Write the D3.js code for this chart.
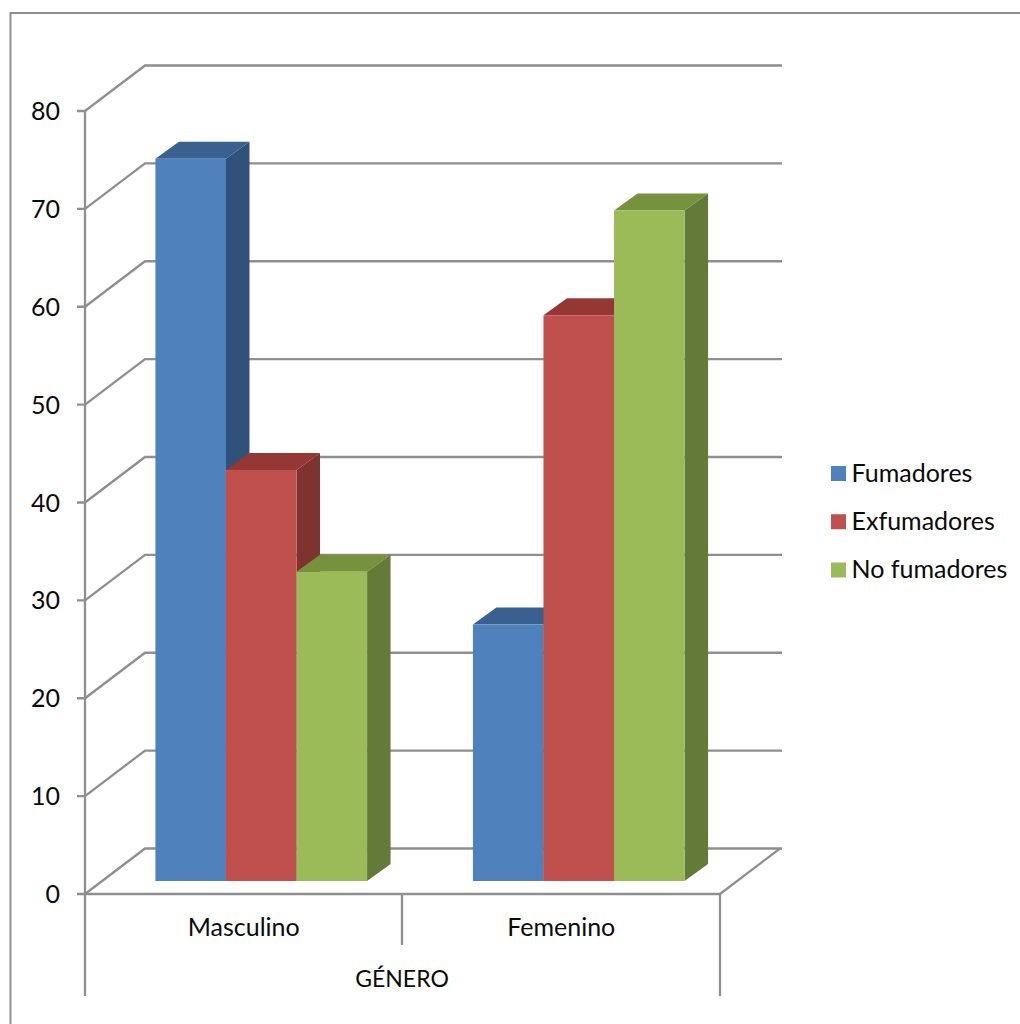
<!DOCTYPE html>
<html>
<head>
<meta charset="utf-8">
<title>Género</title>
<script src="https://d3js.org/d3.v7.min.js"></script>
<style>
    html, body { margin: 0; padding: 0; background: #fff; }
    svg { display: block; }
    text { font-family: Lato, "Open Sans", sans-serif; font-size: 25px; fill: #0a0a0a; }
</style>
</head>
<body>
<div id="chart"></div>
<script>
var categories = ["Masculino", "Femenino"];
var seriesNames = ["Fumadores", "Exfumadores", "No fumadores"];
var fumadores = [73.8, 26.2];
var exfumadores = [42, 57.8];
var noFumadores = [31.6, 68.5];
var yTicks = [0, 10, 20, 30, 40, 50, 60, 70, 80];
var axisTitle = "GÉNERO";

var seriesValues = [fumadores, exfumadores, noFumadores];
var faceColors = ["#4f81bd", "#c0504d", "#9bbb59"];
var topColors = ["#3a6090", "#953735", "#76923c"];
var sideColors = ["#30527a", "#7f3331", "#647a38"];
var gridColor = "#8f8f8f";

var w = 1020, h = 1024;

var svg = d3.select("#chart").append("svg")
    .attr("width", w)
    .attr("height", h);

// outer frame of the chart area, runs off the bottom and right of the picture
svg.append("path")
    .attr("d", "M10.5,1030V13H1030")
    .attr("fill", "none")
    .attr("stroke", gridColor)
    .attr("stroke-width", 2);

var y = d3.scaleLinear().domain([0, 80]).range([894, 111]);
var x0 = d3.scaleBand().domain(categories).range([85, 720]).paddingInner(0).paddingOuter(0);
var x1 = d3.scaleBand().domain(seriesNames).range([0, x0.bandwidth()]).paddingOuter(0.75).paddingInner(0);

// fake 3d: how far back the wall and the bars sit
var wallDx = 60, wallDy = -45.5;
var barDx = 17.5, barDy = -13;
var sideDx = 23.5, sideDy = -17;

var grid = svg.append("g").attr("fill", "none").attr("stroke", gridColor).attr("stroke-width", 2.3);

yTicks.forEach(function(t) {
    var p = d3.path();
    p.moveTo(77, y(t));
    p.lineTo(85, y(t));
    p.lineTo(85 + wallDx, y(t) + wallDy);
    p.lineTo(782, y(t) + wallDy);
    grid.append("path").attr("d", p.toString());
});

// floor right edge
grid.append("path").attr("d", "M720," + y(0) + "L" + (720 + wallDx) + "," + (y(0) + wallDy));
// front edge, value axis
grid.append("path").attr("d", "M85," + y(0) + "H720");
grid.append("path").attr("d", "M85," + y(80) + "V" + y(0));

// category axis separators
grid.append("path").attr("d", "M85," + y(0) + "V996");
grid.append("path").attr("d", "M402," + y(0) + "V945");
grid.append("path").attr("d", "M720," + y(0) + "V996");

categories.forEach(function(cat, c) {
    seriesNames.forEach(function(name, s) {
        var v = seriesValues[s][c];
        var g = svg.append("g");
        var left = x0(cat) + x1(name) + barDx;
        var right = left + x1.bandwidth();
        var top = y(v) + barDy;
        var bottom = y(0) + barDy;

        g.append("path")
            .attr("d", "M" + [[left, top], [left + sideDx, top + sideDy], [right + sideDx, top + sideDy], [right, top]].join("L") + "Z")
            .attr("fill", topColors[s]);
        g.append("path")
            .attr("d", "M" + [[right, top], [right + sideDx, top + sideDy], [right + sideDx, bottom + sideDy], [right, bottom]].join("L") + "Z")
            .attr("fill", sideColors[s]);
        g.append("rect")
            .attr("x", left)
            .attr("y", top)
            .attr("width", x1.bandwidth())
            .attr("height", bottom - top)
            .attr("fill", faceColors[s]);
    });
});

// y labels
svg.selectAll(".ylab")
    .data(yTicks)
    .enter()
    .append("text")
    .attr("class", "ylab")
    .attr("x", 60)
    .attr("y", function(d) { return y(d) + 9; })
    .attr("text-anchor", "end")
    .text(function(d) { return d; });

// category labels
svg.selectAll(".xlab")
    .data(categories)
    .enter()
    .append("text")
    .attr("class", "xlab")
    .attr("x", function(d) { return x0(d) + x0.bandwidth() / 2; })
    .attr("y", 936)
    .attr("text-anchor", "middle")
    .text(function(d) { return d; });

svg.append("text")
    .attr("x", 402)
    .attr("y", 987)
    .attr("text-anchor", "middle")
    .style("font-size", "23px")
    .text(axisTitle);

// legend
var legendY = d3.scalePoint().domain(seriesNames).range([473.5, 570]);

var legend = svg.selectAll(".leg")
    .data(seriesNames)
    .enter()
    .append("g")
    .attr("class", "leg")
    .attr("transform", function(d) { return "translate(831," + legendY(d) + ")"; });

legend.append("rect")
    .attr("x", 0)
    .attr("y", -7.5)
    .attr("width", 15)
    .attr("height", 15)
    .attr("fill", function(d, i) { return faceColors[i]; });

legend.append("text")
    .attr("x", 20.5)
    .attr("y", 8)
    .text(function(d) { return d; });
</script>
</body>
</html>
